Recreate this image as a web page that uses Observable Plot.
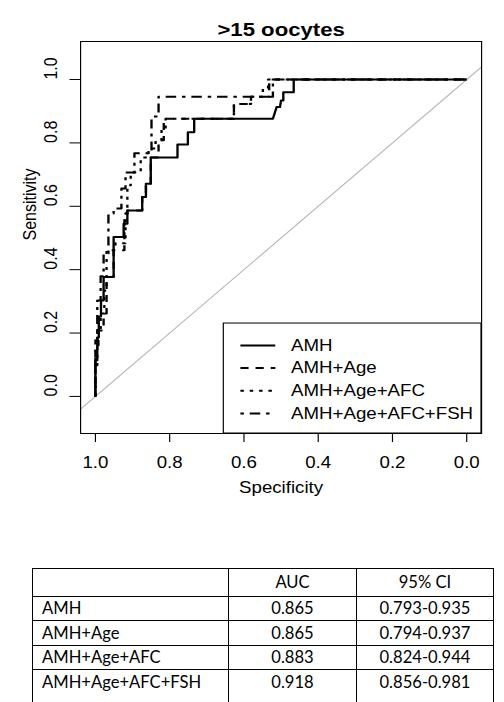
<!DOCTYPE html>
<html>
<head>
<meta charset="utf-8">
<script src="https://cdn.jsdelivr.net/npm/d3@7"></script>
<script src="https://cdn.jsdelivr.net/npm/@observablehq/plot@0.6"></script>
<style>
  html, body { margin: 0; padding: 0; background: #fff; }
  #wrap { position: relative; width: 504px; height: 702px; overflow: hidden; background: #fff; }
  #chart { position: absolute; left: 0; top: 0; }
  #chart svg { transform-origin: 0 0; }
  #tbl { position: absolute; left: 32px; top: 568px; border-collapse: collapse; table-layout: fixed;
         font-family: Lato, "Open Sans", "Liberation Sans", sans-serif; font-size: 16.6px; color: #000; }
  #tbl td { border: 1px solid #000; padding: 0 9px; vertical-align: middle; white-space: nowrap; line-height: 1; }
  #tbl td.c { text-align: center; }
  #tbl tr.last td { border-bottom: none; vertical-align: top; padding-top: 4px; height: 40px; }
</style>
</head>
<body>
<div id="wrap">
  <div id="chart"></div>
  <table id="tbl"></table>
</div>
<script>
// ---------- data ----------
const title = ">15 oocytes";
const xLabel = "Specificity";
const yLabel = "Sensitivity";
const seriesNames = ["AMH", "AMH+Age", "AMH+Age+AFC", "AMH+Age+AFC+FSH"];
const xTicks = [1.0, 0.8, 0.6, 0.4, 0.2, 0.0];
const yTicks = [0.0, 0.2, 0.4, 0.6, 0.8, 1.0];

// ROC curves as [specificity, sensitivity]
const rocAMH = [[1,0],[1,0.114],[0.995,0.114],[0.995,0.186],[0.991,0.186],[0.991,0.252],[0.985,0.252],[0.985,0.303],[0.978,0.303],[0.978,0.377],[0.951,0.377],[0.951,0.503],[0.924,0.503],[0.924,0.545],[0.914,0.545],[0.914,0.587],[0.874,0.587],[0.874,0.629],[0.864,0.629],[0.864,0.671],[0.851,0.671],[0.851,0.754],[0.779,0.754],[0.779,0.795],[0.751,0.795],[0.751,0.834],[0.734,0.834],[0.734,0.876],[0.522,0.876],[0.512,0.913],[0.503,0.913],[0.5,0.934],[0.494,0.934],[0.494,0.96],[0.466,0.96],[0.466,1],[0,1]];
const rocAge = [[1,0],[1,0.161],[0.992,0.161],[0.992,0.208],[0.978,0.208],[0.978,0.262],[0.97,0.262],[0.97,0.377],[0.951,0.377],[0.951,0.461],[0.922,0.461],[0.922,0.577],[0.914,0.577],[0.914,0.587],[0.874,0.587],[0.874,0.629],[0.864,0.629],[0.864,0.671],[0.851,0.671],[0.851,0.754],[0.83,0.754],[0.83,0.808],[0.816,0.808],[0.816,0.876],[0.627,0.876],[0.627,0.923],[0.581,0.923],[0.581,0.946],[0.532,0.946],[0.532,1],[0,1]];
const rocAFC = [[1,0],[1,0.098],[0.995,0.098],[0.995,0.208],[0.986,0.208],[0.986,0.262],[0.976,0.262],[0.976,0.334],[0.97,0.334],[0.97,0.461],[0.946,0.461],[0.946,0.483],[0.919,0.483],[0.919,0.577],[0.914,0.577],[0.914,0.666],[0.905,0.666],[0.905,0.707],[0.878,0.707],[0.878,0.754],[0.857,0.754],[0.857,0.782],[0.838,0.782],[0.838,0.808],[0.822,0.808],[0.822,0.845],[0.811,0.845],[0.811,0.876],[0.627,0.876],[0.627,0.923],[0.581,0.923],[0.581,0.946],[0.549,0.946],[0.549,0.972],[0.535,0.972],[0.535,1],[0,1]];
const rocFSH = [[1,0],[1,0.177],[0.995,0.177],[0.995,0.303],[0.986,0.303],[0.986,0.379],[0.978,0.379],[0.978,0.451],[0.965,0.451],[0.965,0.577],[0.951,0.577],[0.951,0.593],[0.93,0.593],[0.93,0.656],[0.919,0.656],[0.919,0.707],[0.895,0.707],[0.895,0.767],[0.849,0.767],[0.849,0.883],[0.83,0.883],[0.83,0.946],[0.522,0.946],[0.522,1],[0,1]];

// table
const tableHeader = ["", "AUC", "95% CI"];
const aucValues = ["0.865", "0.865", "0.883", "0.918"];
const ciValues = ["0.793-0.935", "0.794-0.937", "0.824-0.944", "0.856-0.981"];

// ---------- styles / layout ----------
const dashes = [null, "7,6", "3,5", "3,5,9,5"];
const curves = [rocAMH, rocAge, rocAFC, rocFSH];
const stretch = 504 / 432;          // original R device is stretched horizontally
const W = 432, H = 515;
const xDomain = [1.04, -0.04];
const yDomain = [-0.117, 1.12];
const legendBox = {x1: 0.654, y2: 0.23};
const legendRow0 = 0.161, legendStep = 0.0715;
const legendLine = [0.608, 0.514], legendTextX = 0.473;
const font = "'Liberation Sans', Arial, Helvetica, sans-serif";

const marks = [
  Plot.line(xDomain, {x: d => d, y: d => 1 - d, stroke: "#b3b3b3", strokeWidth: 1}),
  Plot.rect([0], {x1: legendBox.x1, x2: xDomain[1], y1: yDomain[0], y2: legendBox.y2, fill: "white", stroke: "#000", strokeWidth: 1}),
];
curves.forEach((c, i) => {
  marks.push(Plot.line(c, {x: d => d[0], y: d => d[1], stroke: "#000", strokeWidth: 2,
    strokeDasharray: dashes[i] || undefined, strokeLinejoin: "round", strokeLinecap: "butt"}));
});
seriesNames.forEach((name, i) => {
  const yy = legendRow0 - i * legendStep;
  marks.push(Plot.ruleY([yy], {x1: legendLine[0], x2: legendLine[1], stroke: "#000", strokeWidth: 2,
    strokeDasharray: dashes[i] || undefined}));
  marks.push(Plot.text([name], {x: legendTextX, y: yy, text: d => d, textAnchor: "start", fontSize: 16, fill: "#000"}));
});
marks.push(
  Plot.frame({stroke: "#000", strokeWidth: 1}),
  Plot.axisX({ticks: xTicks, tickSize: 9, tickPadding: 14, tickFormat: d3.format(".1f"), fontSize: 16, label: null, stroke: "#000", color: "#000"}),
  Plot.axisY({ticks: yTicks, tickSize: 9, tickFormat: () => "", label: null, stroke: "#000"}),
  Plot.text(yTicks, {y: d => d, text: d3.format(".1f"), frameAnchor: "left", dx: -25, rotate: -90, fontSize: 16, fill: "#000"}),
  Plot.text([title], {text: d => d, frameAnchor: "top", dy: -19, fontSize: 19, fontWeight: "bold", fill: "#000"}),
  Plot.text([xLabel], {text: d => d, frameAnchor: "bottom", dy: 59, fontSize: 16, fill: "#000"}),
  Plot.text([yLabel], {text: d => d, frameAnchor: "left", dx: -43, dy: 3, rotate: -90, fontSize: 16, fill: "#000"})
);

const svg = Plot.plot({
  width: W, height: H,
  marginLeft: 80 / stretch, marginRight: (504 - 481) / stretch, marginTop: 41, marginBottom: H - 433,
  x: {domain: xDomain, axis: null},
  y: {domain: yDomain, axis: null},
  style: {fontFamily: font, fontSize: "16px", background: "#fff", color: "#000", overflow: "visible"},
  marks
});
svg.style.transform = `scaleX(${stretch})`;
document.getElementById("chart").appendChild(svg);

// ---------- table ----------
const colW = [196, 128, 137];
const tbl = document.getElementById("tbl");
const cg = document.createElement("colgroup");
colW.forEach(w => { const c = document.createElement("col"); c.style.width = w + "px"; cg.appendChild(c); });
tbl.appendChild(cg);
const rows = [tableHeader].concat(seriesNames.map((n, i) => [n, aucValues[i], ciValues[i]]));
rows.forEach((r, ri) => {
  const tr = document.createElement("tr");
  const last = ri === rows.length - 1;
  if (last) tr.className = "last";
  else tr.style.height = (ri === 0 ? 28 : 24.3) + "px";
  r.forEach((v, ci) => {
    const td = document.createElement("td");
    td.textContent = v;
    if (ci > 0) td.className = "c";
    tr.appendChild(td);
  });
  tbl.appendChild(tr);
});
</script>
</body>
</html>
